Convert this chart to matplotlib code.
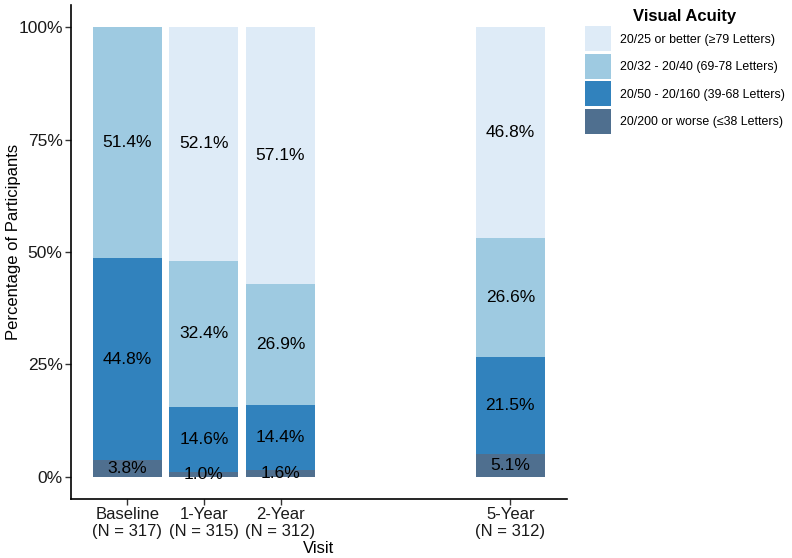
import numpy as np
import matplotlib
matplotlib.use("Agg")
import matplotlib.pyplot as plt
from matplotlib.patches import Patch

# data
visits = ['Baseline\n(N = 317)', '1-Year\n(N = 315)', '2-Year\n(N = 312)', '5-Year\n(N = 312)']
visit_pos = [1, 2, 3, 6]
categories = ['20/200 or worse (\u226438 Letters)',
              '20/50 - 20/160 (39-68 Letters)',
              '20/32 - 20/40 (69-78 Letters)',
              '20/25 or better (\u226579 Letters)']
worse = [3.8, 1.0, 1.6, 5.1]
mid_low = [44.8, 14.6, 14.4, 21.5]
mid_high = [51.4, 32.4, 26.9, 26.6]
better = [0.0, 52.1, 57.1, 46.8]
series = [worse, mid_low, mid_high, better]
colors = ['#4f6f8f', '#3182bd', '#9ecae1', '#deebf7']

plt.rcParams['font.family'] = ['Liberation Sans', 'DejaVu Sans']

fig = plt.figure(figsize=(7.92, 5.58), dpi=100)
ax = fig.add_axes([71/792, 1 - 499/558, (567-71)/792, (499-5)/558])

bottom = np.zeros(len(visit_pos))
for vals, col in zip(series, colors):
    vals = np.array(vals)
    ax.bar(visit_pos, vals, bottom=bottom, width=0.9, color=col, edgecolor='none')
    for x, v, b in zip(visit_pos, vals, bottom):
        if v > 0:
            ax.text(x, b + v/2, f'{v:.1f}%', ha='center', va='center', fontsize=12.5, color='black')
    bottom += vals

ax.set_xlim(0.265, 6.74)
ax.set_ylim(-4.9, 104.9)
ax.set_yticks([0, 25, 50, 75, 100])
ax.set_yticklabels(['0%', '25%', '50%', '75%', '100%'], fontsize=12.5)
ax.set_xticks(visit_pos)
ax.set_xticklabels(visits, fontsize=12, linespacing=1.1)
ax.tick_params(length=4, width=1, color='#333333', labelcolor='#1a1a1a', pad=2)
for s in ['top', 'right']:
    ax.spines[s].set_visible(False)
for s in ['left', 'bottom']:
    ax.spines[s].set_linewidth(1.2)
ax.set_xlabel('Visit', fontsize=12, labelpad=2)
ax.set_ylabel('Percentage of Participants', fontsize=12)
ax.yaxis.set_label_coords(-0.100, 0.52)

handles = [Patch(facecolor=c, edgecolor='none') for c in colors[::-1]]
leg = fig.legend(handles, categories[::-1], loc='upper left', bbox_to_anchor=(585/792, 1 - 9/558),
                 frameon=False, title='Visual Acuity', fontsize=8.9, handlelength=2.1, handleheight=2.73,
                 handletextpad=0.73, labelspacing=0.2, borderaxespad=0, borderpad=0)
leg.get_title().set_fontweight('bold')
leg.get_title().set_fontsize(12)

fig.savefig('out.png', dpi=100)
